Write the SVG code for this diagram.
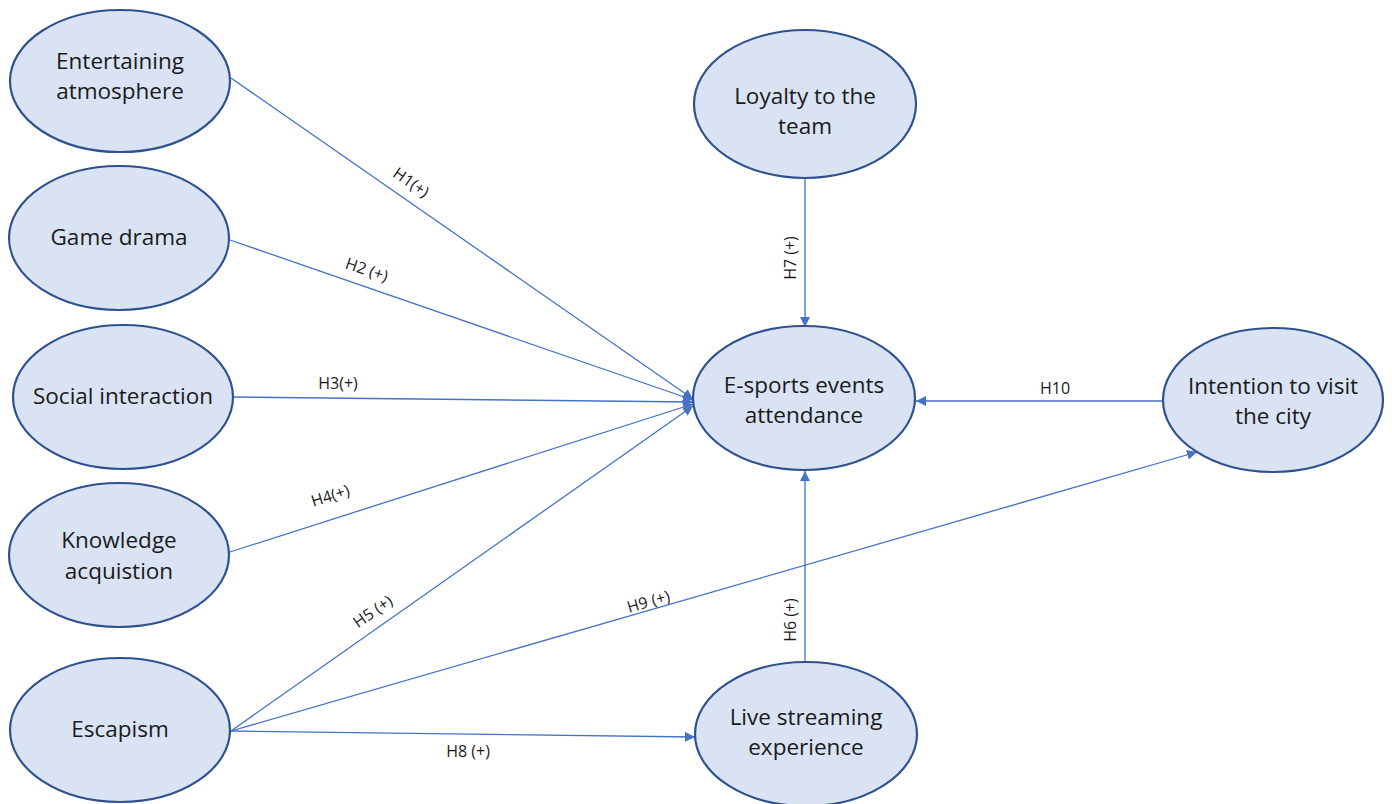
<svg xmlns="http://www.w3.org/2000/svg" width="1392" height="804" viewBox="0 0 1392 804">
<style>
.n{fill:#dae3f3;stroke:#2f528f;stroke-width:2.2}
.t{font-family:"Open Sans","Liberation Sans",sans-serif;font-size:22.5px;fill:#1a1a1a;text-anchor:middle}
.c{stroke:#4472c4;stroke-width:1.3;fill:none}
.l{font-family:"Open Sans","Liberation Sans",sans-serif;font-size:16px;fill:#1a1a1a;text-anchor:middle}
</style>
<defs>
<marker id="a" viewBox="0 0 10 10" refX="10" refY="5" markerWidth="10" markerHeight="10" markerUnits="userSpaceOnUse" orient="auto">
<path d="M0,0 L10,5 L0,10 z" fill="#4472c4"/>
</marker>
</defs>
<g id="connectors">
<line class="c" x1="231" y1="78" x2="693" y2="399" marker-end="url(#a)"/>
<line class="c" x1="230" y1="240" x2="693" y2="400" marker-end="url(#a)"/>
<line class="c" x1="233" y1="397" x2="693" y2="402" marker-end="url(#a)"/>
<line class="c" x1="230" y1="552" x2="693" y2="404" marker-end="url(#a)"/>
<line class="c" x1="231" y1="731" x2="693" y2="406" marker-end="url(#a)"/>
<line class="c" x1="231" y1="731" x2="1197" y2="452" marker-end="url(#a)"/>
<line class="c" x1="231" y1="731" x2="695" y2="737" marker-end="url(#a)"/>
<line class="c" x1="805" y1="662" x2="805" y2="471" marker-end="url(#a)"/>
<line class="c" x1="805" y1="178" x2="805" y2="327" marker-end="url(#a)"/>
<line class="c" x1="1163" y1="401" x2="916" y2="401" marker-end="url(#a)"/>
<text class="l" transform="translate(408,187) rotate(34.9)">H1(+)</text>
<text class="l" transform="translate(365,275) rotate(19)">H2 (+)</text>
<text class="l" x="338" y="389">H3(+)</text>
<text class="l" transform="translate(332,501) rotate(-17.6)">H4(+)</text>
<text class="l" transform="translate(376,616) rotate(-34.9)">H5 (+)</text>
<text class="l" transform="translate(650,607) rotate(-16)">H9 (+)</text>
<text class="l" x="468" y="757">H8 (+)</text>
<text class="l" transform="translate(796,620) rotate(-90)">H6 (+)</text>
<text class="l" transform="translate(796,258) rotate(-90)">H7 (+)</text>
<text class="l" x="1055" y="394">H10</text>
</g>
<g id="n1"><ellipse class="n" cx="120" cy="81" rx="110" ry="71"/><text class="t" x="120" y="69">Entertaining</text><text class="t" x="120" y="99">atmosphere</text></g>
<g id="n2"><ellipse class="n" cx="119" cy="238" rx="110" ry="72"/><text class="t" x="119" y="245">Game drama</text></g>
<g id="n3"><ellipse class="n" cx="123" cy="397" rx="110" ry="72"/><text class="t" x="123" y="404">Social interaction</text></g>
<g id="n4"><ellipse class="n" cx="119" cy="555" rx="110" ry="72"/><text class="t" x="119" y="548">Knowledge</text><text class="t" x="119" y="579">acquistion</text></g>
<g id="n5"><ellipse class="n" cx="120" cy="730" rx="110" ry="72"/><text class="t" x="120" y="737">Escapism</text></g>
<g id="n6"><ellipse class="n" cx="805" cy="104" rx="111" ry="74"/><text class="t" x="805" y="104">Loyalty to the</text><text class="t" x="805" y="134">team</text></g>
<g id="n7"><ellipse class="n" cx="804" cy="398" rx="111" ry="72"/><text class="t" x="804" y="393">E-sports events</text><text class="t" x="804" y="423">attendance</text></g>
<g id="n8"><ellipse class="n" cx="1273" cy="400" rx="110" ry="72"/><text class="t" x="1273" y="394">Intention to visit</text><text class="t" x="1273" y="424">the city</text></g>
<g id="n9"><ellipse class="n" cx="806" cy="734" rx="111" ry="72"/><text class="t" x="806" y="725">Live streaming</text><text class="t" x="806" y="755">experience</text></g>
</svg>
